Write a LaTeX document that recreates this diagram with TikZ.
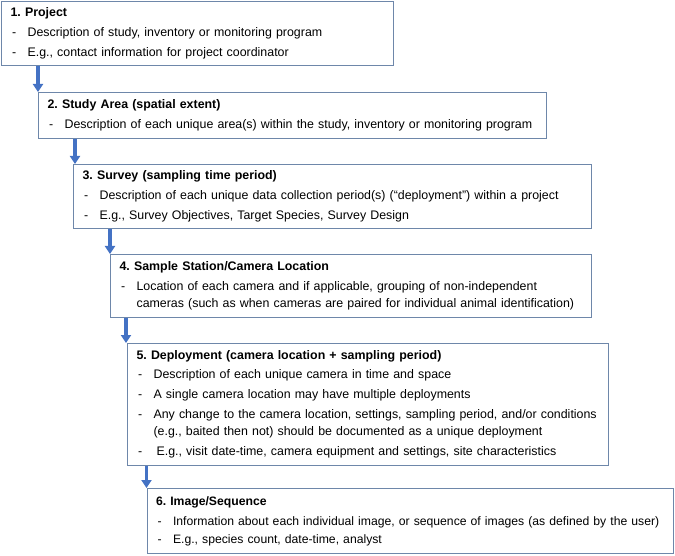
\documentclass[tikz,border=0pt]{standalone}
\usepackage{fontspec}
\setmainfont{Liberation Sans}
\usetikzlibrary{arrows.meta}
\frenchspacing

\definecolor{boxline}{RGB}{110,135,170}
\definecolor{flowblue}{RGB}{68,114,196}
\newcommand\itm[1]{\makebox[17pt][l]{\hspace{1.5pt}-}#1}
\newcommand\cont{\hspace*{17pt}}

\begin{document}
\begin{tikzpicture}[x=1pt, y=-1pt,
  stage/.style={draw=boxline, line width=1.1pt, anchor=north west, align=left,
    inner xsep=9pt, inner ysep=0pt, font=\fontsize{12.4}{17}\selectfont},
  flow/.style={draw=flowblue, line width=3.2pt, -{Triangle[width=10pt,length=8pt]}}]
  \useasboundingbox (0,0) rectangle (675,556);
  \node[stage, text width=374pt, minimum height=64pt] (b1) at (1,1)
    {\textbf{1. Project}\\[3pt]
     \itm{Description of study, inventory or monitoring program}\\[3pt]
     \itm{E.g., contact information for project coordinator}};
  \node[stage, text width=490pt, minimum height=46pt] (b2) at (38,92)
    {\textbf{2. Study Area (spatial extent)}\\[3pt]
     \itm{Description of each unique area(s) within the study, inventory or monitoring program}};
  \node[stage, text width=500pt, minimum height=64pt] (b3) at (73,164)
    {\textbf{3. Survey (sampling time period)}\\[3pt]
     \itm{Description of each unique data collection period(s) (“deployment”) within a project}\\[3pt]
     \itm{E.g., Survey Objectives, Target Species, Survey Design}};
  \node[stage, text width=463pt, minimum height=63pt] (b4) at (110,254)
    {\textbf{4. Sample Station/Camera Location}\\[3pt]
     \itm{Location of each camera and if applicable, grouping of non-independent}\\
     \cont cameras (such as when cameras are paired for individual animal identification)};
  \node[stage, text width=463pt, minimum height=122pt] (b5) at (127,343)
    {\textbf{5. Deployment (camera location + sampling period)}\\[2pt]
     \itm{Description of each unique camera in time and space}\\[3pt]
     \itm{A single camera location may have multiple deployments}\\[3pt]
     \itm{Any change to the camera location, settings, sampling period, and/or conditions}\\
     \cont (e.g., baited then not) should be documented as a unique deployment\\[3pt]
     \itm{\hspace{3pt}E.g., visit date-time, camera equipment and settings, site characteristics}};
  \node[stage, text width=508pt, minimum height=65pt, font=\fontsize{12.2}{17}\selectfont] (b6) at (146.5,488)
    {\textbf{6. Image/Sequence}\\[3pt]
     \itm{Information about each individual image, or sequence of images (as defined by the user)}\\[1pt]
     \itm{E.g., species count, date-time, analyst}};
  \draw[flow] ([xshift=37pt]b1.south west) -- ([xshift=37pt]b1.south west |- b2.north);
  \draw[flow] ([xshift=37pt]b2.south west) -- ([xshift=37pt]b2.south west |- b3.north);
  \draw[flow] ([xshift=37pt]b3.south west) -- ([xshift=37pt]b3.south west |- b4.north);
  \draw[flow] ([xshift=16pt]b4.south west) -- ([xshift=16pt]b4.south west |- b5.north);
  \draw[flow] ([xshift=19.5pt]b5.south west) -- ([xshift=19.5pt]b5.south west |- b6.north);
\end{tikzpicture}
\end{document}
